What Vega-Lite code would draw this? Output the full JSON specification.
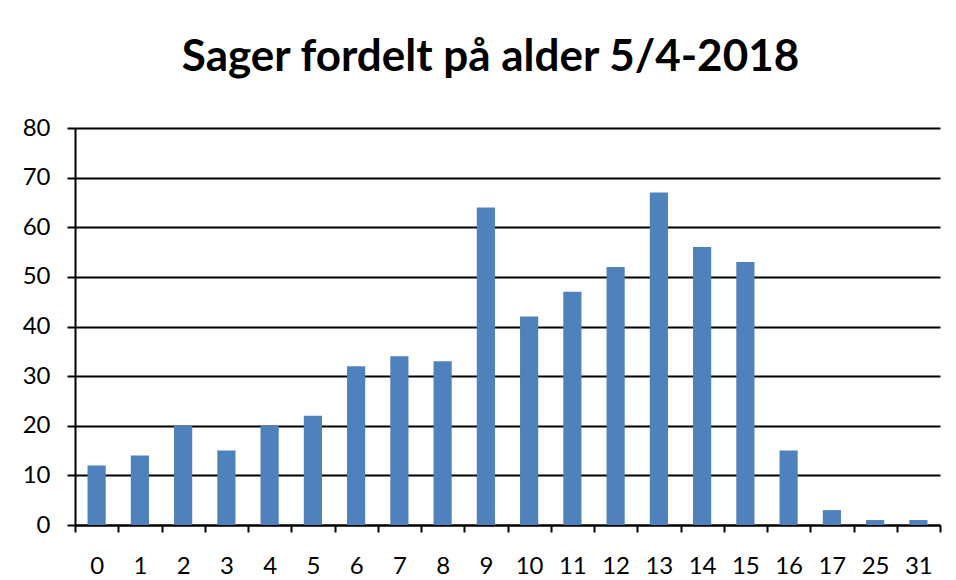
{
  "$schema": "https://vega.github.io/schema/vega-lite/v6.json",
  "width": 865,
  "height": 397,
  "autosize": {"type": "none"},
  "padding": {"left": 75, "top": 128, "right": 16, "bottom": 55},
  "background": "white",
  "title": {
    "text": "Sager fordelt på alder 5/4-2018",
    "font": "Lato",
    "fontSize": 44,
    "fontWeight": "bold",
    "color": "black",
    "anchor": "middle",
    "frame": "group",
    "offset": 36,
    "dx": -17
  },
  "data": {
    "values": [
      {"alder": "0", "antal": 12},
      {"alder": "1", "antal": 14},
      {"alder": "2", "antal": 20},
      {"alder": "3", "antal": 15},
      {"alder": "4", "antal": 20},
      {"alder": "5", "antal": 22},
      {"alder": "6", "antal": 32},
      {"alder": "7", "antal": 34},
      {"alder": "8", "antal": 33},
      {"alder": "9", "antal": 64},
      {"alder": "10", "antal": 42},
      {"alder": "11", "antal": 47},
      {"alder": "12", "antal": 52},
      {"alder": "13", "antal": 67},
      {"alder": "14", "antal": 56},
      {"alder": "15", "antal": 53},
      {"alder": "16", "antal": 15},
      {"alder": "17", "antal": 3},
      {"alder": "25", "antal": 1},
      {"alder": "31", "antal": 1}
    ]
  },
  "mark": {"type": "bar", "color": "#4F81BD", "width": {"band": 0.42}},
  "encoding": {
    "x": {
      "field": "alder",
      "type": "ordinal",
      "sort": null,
      "scale": {"paddingInner": 0, "paddingOuter": 0},
      "axis": {
        "title": null,
        "labelAngle": 0,
        "labelFont": "Lato",
        "labelFontSize": 24,
        "labelColor": "black",
        "labelPadding": 22,
        "tickBand": "extent",
        "tickSize": 7,
        "tickWidth": 2,
        "tickColor": "black",
        "domainColor": "black",
        "domainWidth": 2,
        "grid": false
      }
    },
    "y": {
      "field": "antal",
      "type": "quantitative",
      "scale": {"domain": [0, 80]},
      "axis": {
        "title": null,
        "values": [0, 10, 20, 30, 40, 50, 60, 70, 80],
        "labelFont": "Lato",
        "labelFontSize": 24,
        "labelColor": "black",
        "labelPadding": 17,
        "tickSize": 8,
        "tickWidth": 2,
        "tickColor": "black",
        "domainColor": "black",
        "domainWidth": 2,
        "grid": true,
        "gridColor": "black",
        "gridWidth": 2,
        "gridOpacity": 1
      }
    }
  },
  "config": {"view": {"stroke": null}}
}
